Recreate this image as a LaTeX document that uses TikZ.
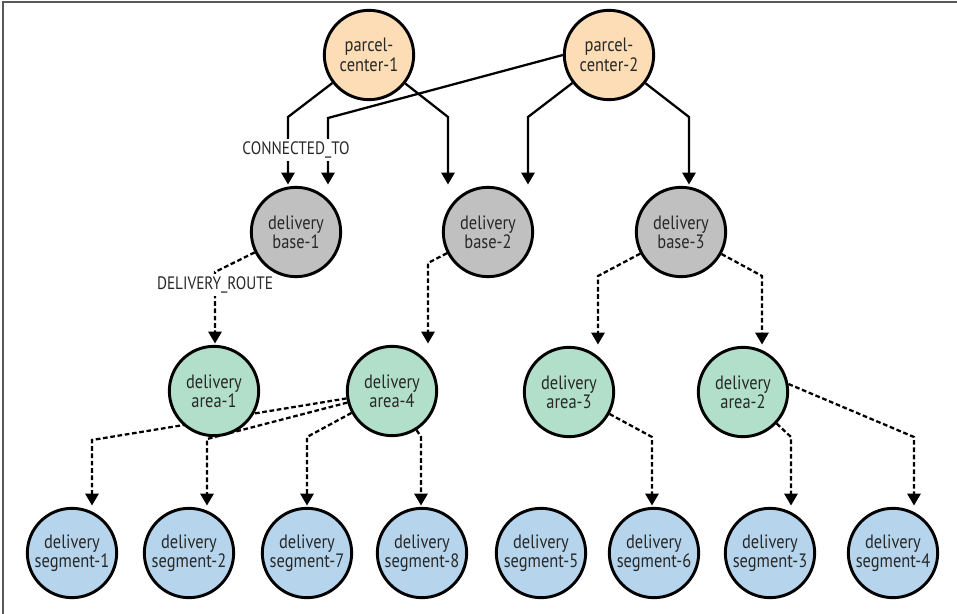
\documentclass[tikz,border=0pt]{standalone}
\usepackage{fontspec}
\setmainfont{PT Sans}[FakeStretch=0.85]
\usetikzlibrary{arrows.meta,backgrounds}
\definecolor{parcelfill}{RGB}{252,221,181}
\definecolor{basefill}{RGB}{192,192,192}
\definecolor{areafill}{RGB}{178,223,201}
\definecolor{segfill}{RGB}{182,213,236}
\definecolor{txt}{RGB}{40,40,40}
\tikzset{
  ballnode/.style={circle,draw=black,line width=2.2pt,minimum size=67pt,inner sep=0pt,
    align=center,text=txt,font=\fontsize{14.5}{14.5}\selectfont},
  centrenode/.style={ballnode,fill=parcelfill},
  basenode/.style={ballnode,fill=basefill},
  areanode/.style={ballnode,fill=areafill},
  segnode/.style={ballnode,fill=segfill},
  link/.style={line width=1.7pt,shorten >=1pt,-{Triangle[width=10pt,length=9pt]}},
  route/.style={link,dash pattern=on 3.5pt off 2pt},
  rellabel/.style={fill=white,inner sep=2pt,text=txt,font=\fontsize{13.5}{14}\selectfont}
}
\begin{document}
\begin{tikzpicture}[x=0.75pt,y=-0.75pt]
\useasboundingbox (0,0) rectangle (957,614);
\draw[line width=1.1pt,black!65] (3,614) -- (3,2) -- (957,2);

\node[centrenode] (pc1) at (369,55) {parcel-\\center-1};
\node[centrenode] (pc2) at (609,55) {parcel-\\center-2};

\node[basenode] (b1) at (296,232) {delivery\\base-1};
\node[basenode] (b2) at (488,232) {delivery\\base-2};
\node[basenode] (b3) at (681,232) {delivery\\base-3};

\node[areanode] (a1) at (214,391) {delivery\\area-1};
\node[areanode] (a4) at (392,391) {delivery\\area-4};
\node[areanode] (a3) at (569,392) {delivery\\area-3};
\node[areanode] (a2) at (743,392) {delivery\\area-2};

\node[segnode] (s1) at (72,553) {delivery\\segment-1};
\node[segnode] (s2) at (189,553) {delivery\\segment-2};
\node[segnode] (s7) at (307,553) {delivery\\segment-7};
\node[segnode] (s8) at (422,553) {delivery\\segment-8};
\node[segnode] (s5) at (541,553) {delivery\\segment-5};
\node[segnode] (s6) at (654,553) {delivery\\segment-6};
\node[segnode] (s3) at (770,553) {delivery\\segment-3};
\node[segnode] (s4) at (893,553) {delivery\\segment-4};

\coordinate (k11) at (288,117);
\coordinate (k21) at (328,118);
\coordinate (k12) at (448,117);
\coordinate (k22) at (528,117);
\coordinate (k23) at (689,117);

\coordinate (r11) at (215,272);
\coordinate (r24) at (428,263);
\coordinate (r33) at (598,276);
\coordinate (r32) at (762,276);

\coordinate (q41) at (92,440);
\coordinate (q42) at (207,439);
\coordinate (q47) at (307,437);
\coordinate (q48) at (421,437);
\coordinate (q36) at (652,437);
\coordinate (q23) at (791,437);
\coordinate (q24) at (914,437);

\begin{scope}[on background layer]
\draw[link] (pc1) -- (k11) -- (k11 |- b1.north);
\draw[link] (pc2.west) -- (k21) -- (k21 |- b1.north);
\draw[link] (pc1) -- (k12) -- (k12 |- b2.north);
\draw[link] (pc2) -- (k22) -- (k22 |- b2.north);
\draw[link] (pc2) -- (k23) -- (k23 |- b3.north);

\draw[route] (b1) -- (r11) -- (r11 |- a1.north);
\draw[route] (b2) -- (r24) -- (r24 |- a4.north);
\draw[route] (b3) -- (r33) -- (r33 |- a3.north);
\draw[route] (b3) -- (r32) -- (r32 |- a2.north);

\draw[route] (a4) -- (q41) -- (q41 |- s1.north);
\draw[route] (a4) -- (q42) -- (q42 |- s2.north);
\draw[route] (a4) -- (q47) -- (q47 |- s7.north);
\draw[route] (a4) -- (q48) -- (q48 |- s8.north);
\draw[route] (a3) -- (q36) -- (q36 |- s6.north);
\draw[route] (a2) -- (q23) -- (q23 |- s3.north);
\draw[route] (a2.10) -- (q24) -- (q24 |- s4.north);
\end{scope}

\node[rellabel] (ct) at (296,150) {CONNECTED\_TO};
\node[rellabel] (dr) at (215,285) {DELIVERY\_ROUTE};
\end{tikzpicture}
\end{document}
